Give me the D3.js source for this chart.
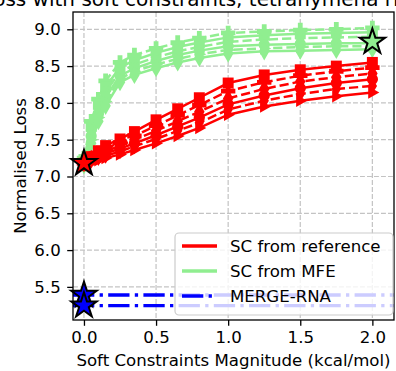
<!DOCTYPE html>
<html>
<head>
<meta charset="utf-8">
<script src="https://cdn.jsdelivr.net/npm/d3@7"></script>
<style>
  html, body { margin: 0; padding: 0; background: #fff; }
  svg { display: block; font-family: "DejaVu Sans", sans-serif; }
</style>
</head>
<body>
<svg id="chart" width="396" height="371"></svg>
<script>
// Soft-constraint magnitudes (kcal/mol)
const magnitudes = [0, 0.05, 0.1, 0.15, 0.25, 0.35, 0.5, 0.65, 0.8, 1.0, 1.25, 1.5, 1.75, 2.0];

// Normalised loss, soft constraints taken from the reference structure
const refSquare   = [7.18, 7.27, 7.35, 7.42, 7.51, 7.61, 7.77, 7.92, 8.07, 8.27, 8.38, 8.45, 8.50, 8.55];
const refPlus     = [7.18, 7.25, 7.32, 7.38, 7.46, 7.55, 7.69, 7.83, 7.97, 8.16, 8.28, 8.37, 8.43, 8.48];
const refDiamond  = [7.18, 7.24, 7.29, 7.34, 7.42, 7.50, 7.62, 7.75, 7.88, 8.06, 8.19, 8.29, 8.35, 8.40];
const refCircle   = [7.17, 7.22, 7.27, 7.31, 7.38, 7.45, 7.56, 7.68, 7.80, 7.98, 8.10, 8.20, 8.27, 8.32];
const refThin     = [7.17, 7.21, 7.25, 7.28, 7.34, 7.41, 7.51, 7.62, 7.73, 7.91, 8.03, 8.12, 8.19, 8.23];
const refTriangle = [7.16, 7.19, 7.22, 7.25, 7.30, 7.36, 7.45, 7.55, 7.66, 7.84, 7.95, 8.03, 8.09, 8.14];

// Normalised loss, soft constraints taken from the MFE structure
const mfePlus     = [7.25, 7.75, 8.05, 8.30, 8.55, 8.65, 8.74, 8.82, 8.88, 8.95, 8.97, 8.99, 9.00, 9.02];
const mfeSquare   = [7.23, 7.68, 7.98, 8.22, 8.48, 8.58, 8.68, 8.76, 8.82, 8.89, 8.92, 8.94, 8.95, 8.96];
const mfeThin     = [7.21, 7.62, 7.92, 8.15, 8.42, 8.52, 8.62, 8.70, 8.76, 8.83, 8.86, 8.88, 8.89, 8.90];
const mfeCircle   = [7.19, 7.55, 7.85, 8.08, 8.37, 8.47, 8.57, 8.65, 8.71, 8.77, 8.79, 8.80, 8.81, 8.81];
const mfeTriangle = [7.17, 7.50, 7.80, 8.02, 8.33, 8.43, 8.52, 8.60, 8.66, 8.72, 8.74, 8.76, 8.77, 8.77];
const mfeDiamond  = [7.15, 7.45, 7.75, 7.96, 8.28, 8.38, 8.47, 8.55, 8.61, 8.67, 8.70, 8.71, 8.72, 8.73];

// MERGE-RNA results (horizontal references)
const mergeLosses = [5.39, 5.245];

// Unconstrained starting point and best MFE-derived result
const refStart = { x: 0, y: 7.18 };
const mfeBest  = { x: 2.0, y: 8.83 };

const xTicks = [0.0, 0.5, 1.0, 1.5, 2.0];
const yTicks = [5.5, 6.0, 6.5, 7.0, 7.5, 8.0, 8.5, 9.0];

const dashDot = "21.3,5.3,3.3,5.3";
const legendItems = [
  { label: "SC from reference", color: "#ff0000", dash: null },
  { label: "SC from MFE", color: "#90ee90", dash: null },
  { label: "MERGE-RNA", color: "#0000ff", dash: dashDot }
];

const svg = d3.select("#chart");
const plotL = 73, plotR = 394, plotT = 12, plotB = 320;
const fontSize = 16.6;

const x = d3.scaleLinear().domain([-0.076, 2.15]).range([plotL, plotR]);
const y = d3.scaleLinear().domain([5.05, 9.235]).range([plotB, plotT]);

// Title (runs past the top edge of the canvas)
svg.append("text")
  .attr("x", 209).attr("y", 6)
  .attr("text-anchor", "middle")
  .attr("font-size", 20)
  .text("Loss with soft constraints, tetrahymena rRNA");

// Grid
const grid = svg.append("g").attr("stroke", "#b0b0b0").attr("stroke-width", 1.2)
  .attr("stroke-dasharray", "4.9,2.1").attr("opacity", 0.75);
xTicks.forEach(t => grid.append("line")
  .attr("x1", x(t)).attr("x2", x(t)).attr("y1", plotT).attr("y2", plotB));
yTicks.forEach(t => grid.append("line")
  .attr("x1", plotL).attr("x2", plotR).attr("y1", y(t)).attr("y2", y(t)));

svg.append("clipPath").attr("id", "plot-clip")
  .append("rect").attr("x", plotL).attr("y", plotT)
  .attr("width", plotR - plotL).attr("height", plotB - plotT);

const plot = svg.append("g").attr("clip-path", "url(#plot-clip)");

// Marker shapes
const triRight = { draw(ctx, size) {
  const r = Math.sqrt(size) * 0.62;
  ctx.moveTo(r, 0); ctx.lineTo(-r * 0.6, -r * 0.9); ctx.lineTo(-r * 0.6, r * 0.9); ctx.closePath();
}};
const thinDiamond = { draw(ctx, size) {
  const r = Math.sqrt(size) * 0.7;
  ctx.moveTo(0, -r); ctx.lineTo(r * 0.6, 0); ctx.lineTo(0, r); ctx.lineTo(-r * 0.6, 0); ctx.closePath();
}};
const shapes = {
  square: d3.symbolSquare, plus: d3.symbolCross, diamond: d3.symbolDiamond,
  circle: d3.symbolCircle, thin: thinDiamond, triangle: triRight
};
const sizes = { square: 120, plus: 115, diamond: 95, circle: 100, thin: 125, triangle: 125 };

const dashed = "9.2,4";
const seriesList = [
  { vals: mfePlus, color: "#90ee90", shape: "plus", dash: dashed },
  { vals: mfeSquare, color: "#90ee90", shape: "square", dash: null },
  { vals: mfeThin, color: "#90ee90", shape: "thin", dash: dashed },
  { vals: mfeCircle, color: "#90ee90", shape: "circle", dash: null },
  { vals: mfeTriangle, color: "#90ee90", shape: "triangle", dash: dashed },
  { vals: mfeDiamond, color: "#90ee90", shape: "diamond", dash: null },
  { vals: refTriangle, color: "#ff0000", shape: "triangle", dash: null },
  { vals: refThin, color: "#ff0000", shape: "thin", dash: dashed },
  { vals: refCircle, color: "#ff0000", shape: "circle", dash: null },
  { vals: refDiamond, color: "#ff0000", shape: "diamond", dash: dashed },
  { vals: refPlus, color: "#ff0000", shape: "plus", dash: dashed },
  { vals: refSquare, color: "#ff0000", shape: "square", dash: null }
];

const line = d3.line().x(d => x(d[0])).y(d => y(d[1]));
seriesList.forEach(s => {
  const pts = magnitudes.map((m, i) => [m, s.vals[i]]);
  plot.append("path").attr("d", line(pts)).attr("fill", "none")
    .attr("stroke", s.color).attr("stroke-width", 2.5)
    .attr("stroke-dasharray", s.dash);
  const sym = d3.symbol().type(shapes[s.shape]).size(sizes[s.shape]);
  plot.selectAll(null).data(pts).enter().append("path")
    .attr("d", sym).attr("transform", d => `translate(${x(d[0])},${y(d[1])})`)
    .attr("fill", s.color);
});

// MERGE-RNA horizontal lines
mergeLosses.forEach(v => {
  plot.append("line").attr("x1", plotL).attr("x2", plotR)
    .attr("y1", y(v)).attr("y2", y(v))
    .attr("stroke", "#0000ff").attr("stroke-width", 3.3)
    .attr("stroke-dasharray", dashDot);
});

// Star markers
const star = d3.symbol().type(d3.symbolStar).size(200);
svg.append("path").attr("d", star)
  .attr("transform", `translate(${x(refStart.x)},${y(refStart.y)})`)
  .attr("fill", "#ff0000").attr("stroke", "#000").attr("stroke-width", 2);
svg.append("path").attr("d", star)
  .attr("transform", `translate(${x(mfeBest.x)},${y(mfeBest.y)})`)
  .attr("fill", "#90ee90").attr("stroke", "#000").attr("stroke-width", 2);
mergeLosses.forEach(v => {
  svg.append("path").attr("d", star)
    .attr("transform", `translate(${x(0)},${y(v)})`)
    .attr("fill", "#0000ff").attr("stroke", "#000").attr("stroke-width", 2);
});

// Axes
const xAxis = svg.append("g").attr("transform", `translate(0,${plotB})`)
  .call(d3.axisBottom(x).tickValues(xTicks).tickFormat(d3.format(".1f")).tickSize(5.8).tickPadding(5.5));
const yAxis = svg.append("g").attr("transform", `translate(${plotL},0)`)
  .call(d3.axisLeft(y).tickValues(yTicks).tickFormat(d3.format(".1f")).tickSize(5.8).tickPadding(6.5));
[xAxis, yAxis].forEach(a => {
  a.select(".domain").remove();
  a.selectAll("text").attr("font-size", fontSize).attr("fill", "#000").attr("font-family", "DejaVu Sans");
  a.selectAll("line").attr("stroke", "#000").attr("stroke-width", 1.3);
});

// Spines
svg.append("rect").attr("x", plotL).attr("y", plotT)
  .attr("width", plotR - plotL).attr("height", plotB - plotT)
  .attr("fill", "none").attr("stroke", "#000").attr("stroke-width", 1.3);

// Axis labels
svg.append("text").attr("x", (plotL + plotR) / 2).attr("y", 366)
  .attr("text-anchor", "middle").attr("font-size", fontSize)
  .text("Soft Constraints Magnitude (kcal/mol)");
svg.append("text").attr("transform", `translate(26,${(plotT + plotB) / 2}) rotate(-90)`)
  .attr("text-anchor", "middle").attr("font-size", fontSize)
  .text("Normalised Loss");

// Legend
const lg = svg.append("g");
lg.append("rect").attr("x", 175).attr("y", 233).attr("width", 218).attr("height", 82)
  .attr("rx", 4).attr("fill", "#fff").attr("fill-opacity", 0.8)
  .attr("stroke", "#cccccc").attr("stroke-width", 1.2);
legendItems.forEach((it, i) => {
  const yy = 246 + i * 25;
  lg.append("line").attr("x1", 182).attr("x2", 217).attr("y1", yy).attr("y2", yy)
    .attr("stroke", it.color).attr("stroke-width", 3.3).attr("stroke-dasharray", it.dash);
  lg.append("text").attr("x", 230).attr("y", yy + 6).attr("font-size", fontSize).text(it.label);
});
</script>
</body>
</html>
